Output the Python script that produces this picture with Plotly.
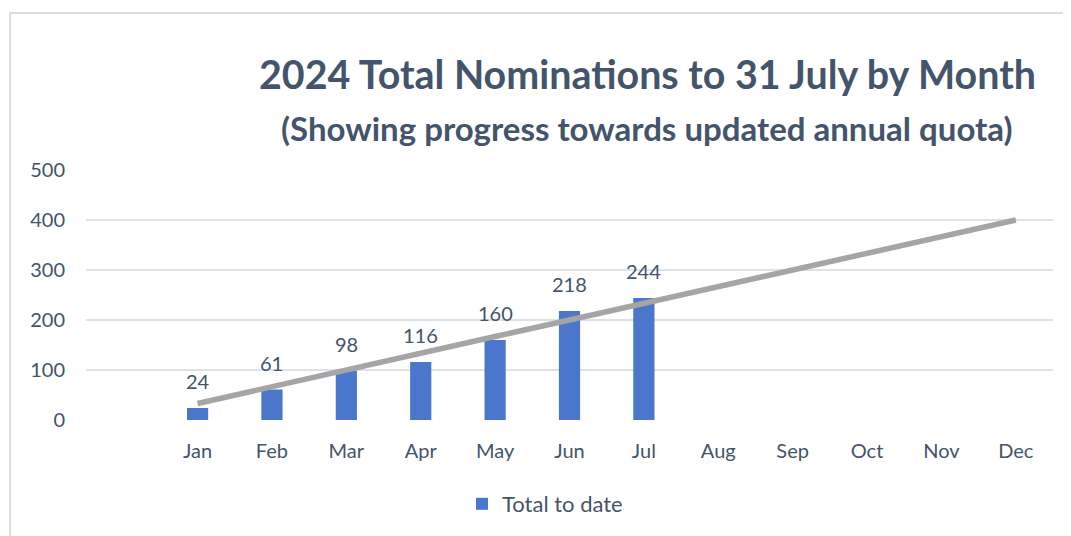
import plotly.graph_objects as go

months = ["Jan", "Feb", "Mar", "Apr", "May", "Jun", "Jul", "Aug", "Sep", "Oct", "Nov", "Dec"]
month_pos = [1, 2, 3, 4, 5, 6, 7, 8, 9, 10, 11, 12]
total_to_date = [24, 61, 98, 116, 160, 218, 244]
quota = [33, 67, 100, 133, 167, 200, 233, 267, 300, 333, 367, 400]
y_ticks = [0, 100, 200, 300, 400, 500]

TEXT = "#44546A"
FONT = "Lato"

OFF = 8  # page body margin
W, H = 1071, 536
L, T = 86 - OFF, 170 - OFF
R = W - (1053 - OFF)
B = H - (420 - OFF)
pw, ph = W - L - R, H - T - B

def px_x(p):
    return (p - OFF - L) / pw

def px_y(p):
    return (H - B - (p - OFF)) / ph

fig = go.Figure()
fig.add_trace(go.Bar(
    x=month_pos[:len(total_to_date)], y=total_to_date,
    name="Total to date",
    width=0.285,
    marker=dict(color="#4A76CB", line=dict(width=0)),
))
fig.add_trace(go.Scatter(
    x=month_pos, y=quota, mode="lines",
    line=dict(color="#A5A5A5", width=5.5),
    showlegend=False, hoverinfo="skip",
))

for xv, yv in zip(month_pos, total_to_date):
    fig.add_annotation(x=xv, y=yv, text=str(yv), showarrow=False,
                       xanchor="center", yanchor="bottom", yshift=13,
                       font=dict(family=FONT, size=20, color=TEXT))

fig.update_layout(
    width=W, height=H,
    margin=dict(l=L, r=R, t=T, b=B),
    paper_bgcolor="white", plot_bgcolor="white",
    font=dict(family=FONT, color=TEXT, size=20),
    showlegend=True,
    legend=dict(orientation="h", x=px_x(462), xanchor="left", y=px_y(504), yanchor="middle",
                font=dict(family=FONT, size=22, color=TEXT)),
    xaxis=dict(range=[-0.5, 12.5], tickmode="array", tickvals=month_pos, ticktext=months,
               showgrid=False, zeroline=False, showline=False, ticks="",
               ticklabelstandoff=17,
               tickfont=dict(family=FONT, size=20, color=TEXT)),
    yaxis=dict(range=[0, 500], tickmode="array", tickvals=y_ticks,
               showgrid=True, gridcolor="#DCE1EA", gridwidth=2, zeroline=False,
               showline=False, ticks="", ticklabelstandoff=20,
               tickfont=dict(family=FONT, size=20, color=TEXT)),
)

fig.add_annotation(text="<b>2024 Total Nominations to 31 July by Month</b>",
                   xref="paper", yref="paper", x=px_x(647), y=px_y(73),
                   xanchor="center", yanchor="middle", showarrow=False,
                   font=dict(family=FONT, size=39.4, color=TEXT))
fig.add_annotation(text="<b>(Showing progress towards updated annual quota)</b>",
                   xref="paper", yref="paper", x=px_x(647), y=px_y(128),
                   xanchor="center", yanchor="middle", showarrow=False,
                   font=dict(family=FONT, size=33, color=TEXT))

fig.add_shape(type="rect", xref="paper", yref="paper",
              x0=px_x(10), x1=px_x(1085), y0=px_y(550), y1=px_y(13),
              line=dict(color="#D9DEE5", width=2), fillcolor="rgba(0,0,0,0)", layer="below")

fig.write_html("out.html")
